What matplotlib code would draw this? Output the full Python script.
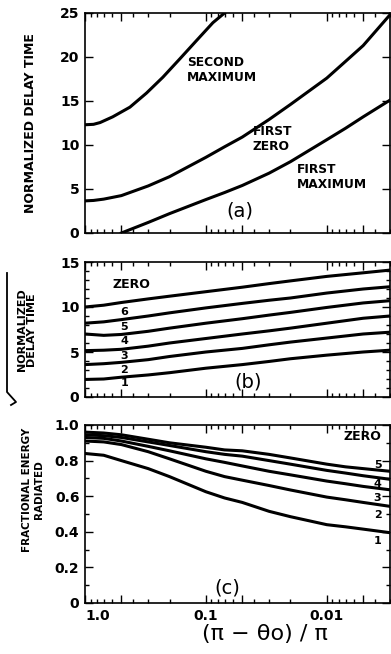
import numpy as np
import matplotlib
matplotlib.use("Agg")
import matplotlib.pyplot as plt
from matplotlib.ticker import FixedLocator, FixedFormatter, NullFormatter, MultipleLocator
from matplotlib.lines import Line2D

# ---------------- data ----------------
X = [1.0, 0.7, 0.5, 0.3, 0.2, 0.1, 0.07, 0.05, 0.03, 0.02, 0.01, 0.007, 0.005, 0.003]

# panel (a): normalized delay time
second_max_x = [1.0, 0.85, 0.75, 0.59, 0.425, 0.31, 0.227, 0.164, 0.119, 0.0875, 0.066, 0.05]
second_max_y = [12.3, 12.35, 12.55, 13.2, 14.3, 15.9, 17.7, 19.8, 21.9, 23.9, 25.3, 27.3]
first_zero_x = [1.0, 0.85, 0.7, 0.5, 0.3, 0.2, 0.1, 0.07, 0.05, 0.03, 0.02, 0.01, 0.007, 0.005, 0.003]
first_zero_y = [3.65, 3.7, 3.85, 4.25, 5.35, 6.4, 8.6, 9.8, 10.9, 12.9, 14.6, 17.6, 19.5, 21.3, 24.8]
first_max_x = [0.5, 0.3, 0.2, 0.1, 0.07, 0.05, 0.03, 0.02, 0.01, 0.007, 0.005, 0.003]
first_max_y = [0.0, 1.2, 2.2, 3.8, 4.6, 5.4, 6.8, 8.1, 10.6, 11.9, 13.2, 15.1]

# panel (b): sqrt(normalized delay time) for zeros 1..6
XB = [1.0, 0.7, 0.5, 0.3, 0.2, 0.1, 0.05, 0.03, 0.02, 0.01, 0.005, 0.003]
zero1 = [1.95, 2.0, 2.2, 2.45, 2.7, 3.2, 3.6, 3.95, 4.25, 4.65, 5.0, 5.2]
zero2 = [3.6, 3.7, 3.85, 4.15, 4.5, 5.0, 5.4, 5.8, 6.1, 6.55, 7.0, 7.2]
zero3 = [5.15, 5.2, 5.3, 5.65, 6.0, 6.5, 7.0, 7.35, 7.65, 8.2, 8.75, 9.0]
zero4 = [7.0, 6.85, 6.95, 7.3, 7.65, 8.2, 8.7, 9.1, 9.4, 9.95, 10.45, 10.7]
zero5 = [8.2, 8.35, 8.6, 9.0, 9.35, 9.9, 10.4, 10.75, 11.0, 11.55, 12.0, 12.25]
zero6 = [10.0, 10.2, 10.5, 10.9, 11.2, 11.7, 12.2, 12.6, 12.9, 13.4, 13.8, 14.1]
zeros_b = [zero1, zero2, zero3, zero4, zero5, zero6]
labels_b = ["1", "2", "3", "4", "5", "6"]
labels_b_y = [1.5, 3.0, 4.55, 6.2, 7.8, 9.4]

# panel (c): fractional energy radiated for zeros 1..5
energy1 = [0.84, 0.83, 0.80, 0.755, 0.71, 0.625, 0.59, 0.565, 0.515, 0.485, 0.44, 0.428, 0.415, 0.395]
energy2 = [0.91, 0.905, 0.89, 0.85, 0.81, 0.74, 0.71, 0.69, 0.66, 0.635, 0.595, 0.58, 0.565, 0.543]
energy3 = [0.93, 0.925, 0.91, 0.88, 0.855, 0.81, 0.79, 0.77, 0.74, 0.72, 0.685, 0.67, 0.655, 0.636]
energy4 = [0.945, 0.94, 0.93, 0.905, 0.885, 0.85, 0.835, 0.825, 0.80, 0.78, 0.745, 0.73, 0.715, 0.695]
energy5 = [0.96, 0.955, 0.945, 0.92, 0.90, 0.875, 0.86, 0.855, 0.835, 0.815, 0.78, 0.765, 0.755, 0.74]
energies = [energy1, energy2, energy3, energy4, energy5]
labels_c = ["1", "2", "3", "4", "5"]
labels_c_y = [0.347, 0.496, 0.59, 0.67, 0.777]

xtick_major = [1.0, 0.1, 0.01]
xtick_labels = ["1.0", "0.1", "0.01"]
xtick_mid = [0.5, 0.05, 0.005]

# ---------------- figure ----------------
W, H = 391, 654
fig = plt.figure(figsize=(W / 100, H / 100), dpi=100)
plt.rcParams['font.family'] = ['DejaVu Sans']

def px_rect(l, t, r, b):
    return [l / W, 1 - b / H, (r - l) / W, (b - t) / H]

LW = 2.2
ax_a = fig.add_axes(px_rect(85, 13, 390, 233))
ax_b = fig.add_axes(px_rect(85, 262, 390, 397))
ax_c = fig.add_axes(px_rect(85, 425, 390, 603))

def style_x(ax, labels):
    ax.set_xscale('log')
    ax.set_xlim(1.0, 0.003)
    majors = xtick_major + xtick_mid
    ax.xaxis.set_major_locator(FixedLocator(majors))
    if labels:
        ax.xaxis.set_major_formatter(FixedFormatter(xtick_labels + ["", "", ""]))
    else:
        ax.xaxis.set_major_formatter(NullFormatter())
    minors = []
    for dec in [1.0, 0.1, 0.01, 0.001]:
        for s in [2, 3, 4, 6, 7, 8, 9]:
            v = s * dec / 10
            if 0.003 <= v <= 1.0:
                minors.append(v)
    ax.xaxis.set_minor_locator(FixedLocator(minors))
    ax.xaxis.set_minor_formatter(NullFormatter())
    ax.tick_params(axis='both', which='both', direction='in', top=True, right=True,
                   width=1.0, labelsize=10)
    ax.tick_params(axis='both', which='major', length=6, pad=4)
    ax.tick_params(axis='both', which='minor', length=3)
    for sp in ax.spines.values():
        sp.set_linewidth(1.2)
    for lab in ax.get_xticklabels() + ax.get_yticklabels():
        lab.set_fontweight('bold')

tk = dict(fontsize=8.8, fontweight='bold', va='center', ha='left', linespacing=1.2)

# (a)
ax_a.plot(second_max_x, second_max_y, color='black', lw=LW)
ax_a.plot(first_zero_x, first_zero_y, color='black', lw=LW)
ax_a.plot(first_max_x, first_max_y, color='black', lw=LW)
ax_a.set_ylim(0, 25)
ax_a.yaxis.set_major_locator(MultipleLocator(5))
style_x(ax_a, False)
ax_a.text(0.1436, 18.5, "SECOND\nMAXIMUM", **tk)
ax_a.text(0.041, 10.7, "FIRST\nZERO", **tk)
ax_a.text(0.0177, 6.4, "FIRST\nMAXIMUM", **tk)
ax_a.text(0.0524, 2.5, "(a)", fontsize=14, ha='center', va='center')
ax_a.set_ylabel("NORMALIZED DELAY TIME", fontsize=9, fontweight='bold')
ax_a.yaxis.set_label_coords(-48 / 305, 0.5)

# (b)
for yv in zeros_b:
    ax_b.plot(XB, yv, color='black', lw=LW)
ax_b.set_ylim(0, 15)
ax_b.yaxis.set_major_locator(MultipleLocator(5))
ax_b.yaxis.set_minor_locator(MultipleLocator(1))
style_x(ax_b, False)
ax_b.text(0.587, 12.55, "ZERO", fontsize=9, fontweight='bold', ha='left', va='center')
for lab, yl in zip(labels_b, labels_b_y):
    ax_b.text(0.475, yl, lab, fontsize=8, fontweight='bold', ha='center', va='center')
ax_b.text(0.045, 1.7, "(b)", fontsize=14, ha='center', va='center')

# (c)
for yv in energies:
    ax_c.plot(X, yv, color='black', lw=LW)
ax_c.set_ylim(0, 1.0)
ax_c.yaxis.set_major_locator(FixedLocator([0, 0.2, 0.4, 0.6, 0.8, 1.0]))
ax_c.yaxis.set_major_formatter(FixedFormatter(["0", "0.2", "0.4", "0.6", "0.8", "1.0"]))
ax_c.yaxis.set_minor_locator(MultipleLocator(0.1))
style_x(ax_c, True)
ax_c.tick_params(axis='x', which='major', pad=4)
ax_c.xaxis.get_major_ticks()[0].label1.set_horizontalalignment('left')
ax_c.text(0.0051, 0.933, "ZERO", fontsize=9, fontweight='bold', ha='center', va='center')
for lab, yl in zip(labels_c, labels_c_y):
    ax_c.text(0.0038, yl, lab, fontsize=8, fontweight='bold', ha='center', va='center')
ax_c.text(0.066, 0.087, "(c)", fontsize=14, ha='center', va='center')
ax_c.set_xlabel("(π − θo) / π", fontsize=16)
ax_c.xaxis.set_label_coords((265 - 85) / 305, -(634 - 603) / 178)
ax_c.xaxis.label.set_verticalalignment('center')

# y labels for (b) and (c) placed in figure pixels
fig.text(27 / W, 1 - 330 / H, "NORMALIZED\nDELAY TIME", rotation=90, fontsize=8,
         fontweight='bold', ha='center', va='center', linespacing=1.1)
fig.text(33 / W, 1 - 490 / H, "FRACTIONAL ENERGY\nRADIATED", rotation=90, fontsize=7.5,
         fontweight='bold', ha='center', va='center', linespacing=1.15)
rad_x = [7, 7, 16, 11]
rad_y = [273, 392, 402, 405]
fig.add_artist(Line2D([x / W for x in rad_x], [1 - y / H for y in rad_y],
                      transform=fig.transFigure, color='black', lw=1.3))

fig.savefig("out.png", dpi=100)
